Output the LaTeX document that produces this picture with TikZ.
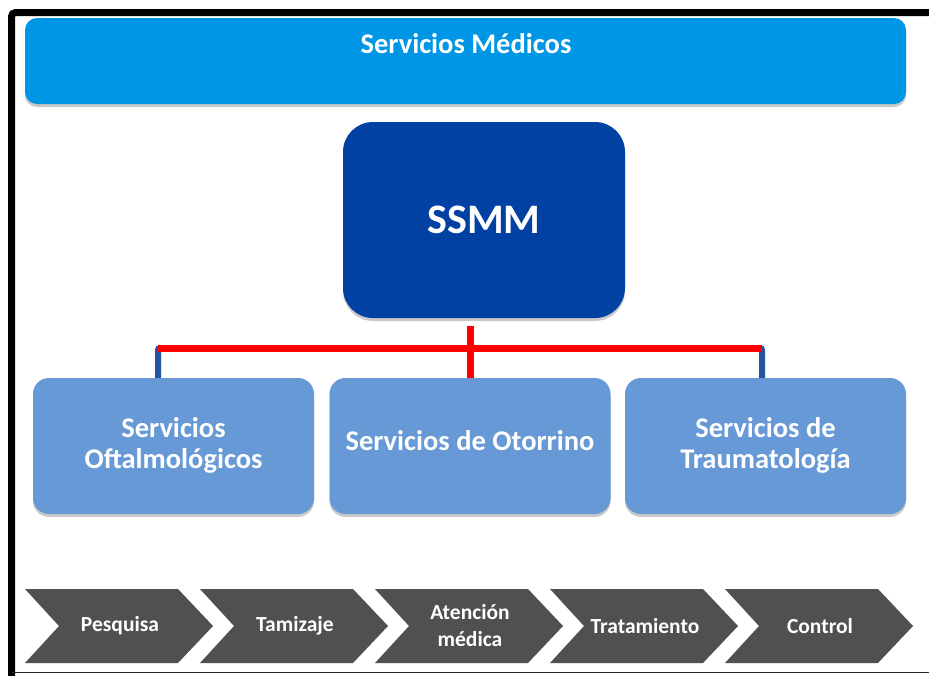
\documentclass[tikz,border=0pt]{standalone}
\usepackage{fontspec}
\setmainfont{Carlito}
\usetikzlibrary{shadows}
\definecolor{barblue}{RGB}{0,150,230}
\definecolor{darkblue}{RGB}{0,65,163}
\definecolor{boxblue}{RGB}{102,153,214}
\definecolor{chevgrey}{RGB}{80,80,80}
\definecolor{linkblue}{RGB}{34,85,165}
\tikzset{
  shadowed/.style={drop shadow={shadow xshift=0pt, shadow yshift=-3pt, opacity=0.35, fill=black!60}},
  topbar/.style={shadowed, fill=barblue, rounded corners=12pt, minimum width=881pt, minimum height=86pt, inner sep=0pt},
  headbox/.style={shadowed, fill=darkblue, rounded corners=30pt, minimum width=282pt, minimum height=196pt, text=white, font=\bfseries\fontsize{42}{44}\selectfont},
  unitbox/.style={shadowed, fill=boxblue, rounded corners=16pt, minimum width=281pt, minimum height=136pt, inner sep=0pt},
  unittext/.style={text=white, align=center, font=\bfseries\fontsize{28.5}{31}\selectfont},
  chevron/.style={fill=chevgrey},
  chevtext/.style={text=white, align=center, font=\bfseries\fontsize{21.5}{27}\selectfont},
  redline/.style={draw=red, line width=7pt},
  blueline/.style={draw=linkblue, line width=6pt, rounded corners=2pt}
}
\begin{document}
\begin{tikzpicture}[x=1pt,y=-1pt]
\useasboundingbox (0,0) rectangle (929,675);
\fill[white] (0,0) rectangle (929,675);
% frame
\draw[line width=7pt, rounded corners=4pt] (11.5,680) -- (11.5,12.5) -- (935,12.5);
\draw[line width=1.5pt, black!85] (11.5,672.5) -- (935,672.5);
% top bar
\node[topbar] (top) at (465.5,61) {};
\node[text=white, font=\bfseries\fontsize{28.5}{30}\selectfont, inner sep=0pt] (toptext) at (466,43.5) {Servicios Médicos};
% head
\node[headbox] (ssmm) at (484,220) {SSMM};
% units
\node[unitbox] (b1) at (173.5,446) {};
\node[unitbox] (b2) at (470,446) {};
\node[unitbox] (b3) at (765.5,446) {};
\node[unittext] (t1) at (173.5,445) {Servicios\\Oftalmológicos};
\node[unittext] (t2) at (470,441) {Servicios de Otorrino};
\node[unittext] (t3) at (765.5,445) {Servicios de\\Traumatología};
% connectors
\coordinate (jl) at (158,348);
\coordinate (jr) at (762,348);
\draw[blueline] (b1.north -| jl) -- (jl) -- ([xshift=4pt]jl);
\draw[blueline] (b3.north -| jr) -- (jr) -- ([xshift=-4pt]jr);
\draw[redline] (jl) -- (jr);
\draw[redline] ([yshift=-8pt]ssmm.south -| b2.north) -- (b2.north);
% chevrons
\foreach \i/\txt/\nm in {0/Pesquisa/c1, 1/Tamizaje/c2, 2/{Atención\\médica}/c3, 3/Tratamiento/c4, 4/Control/c5}{
  \pgfmathsetmacro{\xo}{25+175*\i}
  \fill[chevron] (\xo,589) -- ++(153,0) -- ++(35,37) -- ++(-35,37) -- ++(-153,0) -- ++(34,-37) -- cycle;
  \node[chevtext] (\nm) at (\xo+95,626) {\txt};
}
\end{tikzpicture}
\end{document}
